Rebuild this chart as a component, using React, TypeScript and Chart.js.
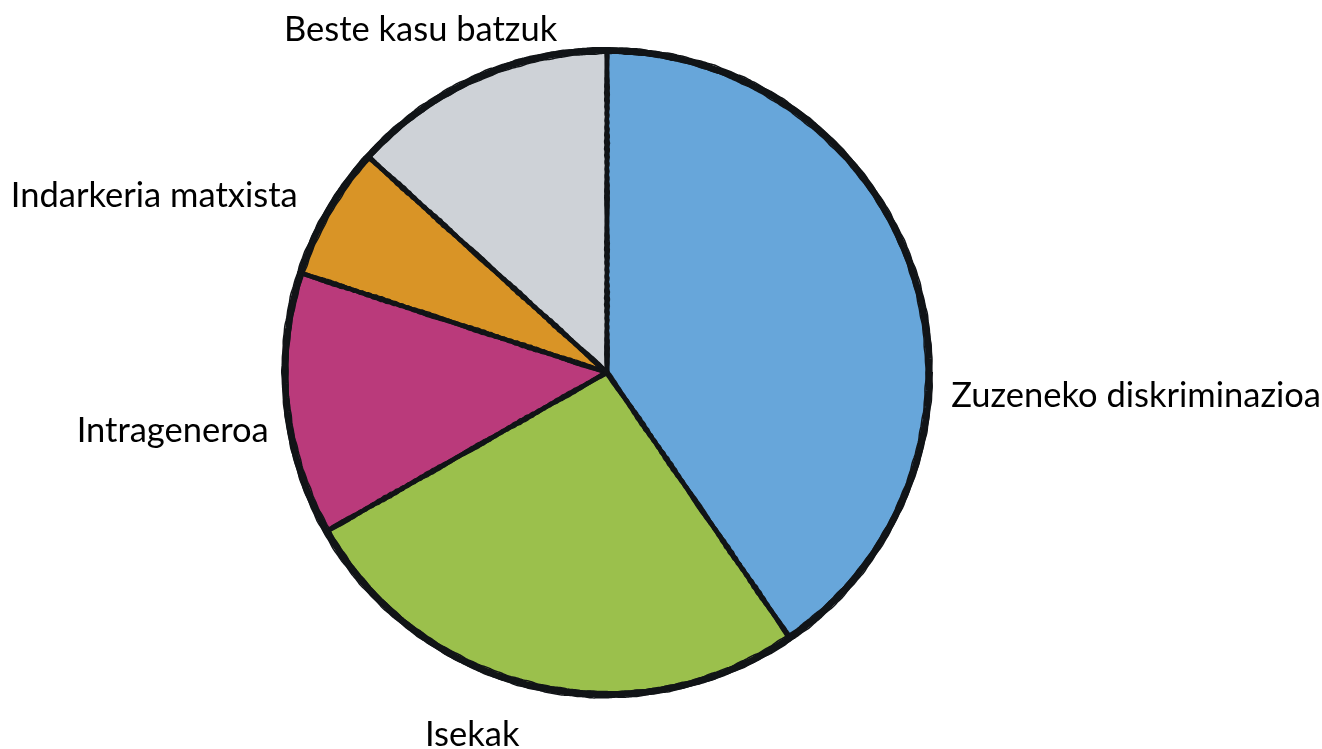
import React, { useEffect, useRef } from "react";
import { Chart, registerables } from "chart.js";

Chart.register(...registerables);

const categories = [
  "Zuzeneko diskriminazioa",
  "Isekak",
  "Intrageneroa",
  "Indarkeria matxista",
  "Beste kasu batzuk",
];
const values = [40.4, 26.4, 13.2, 6.7, 13.3];
const colors = ["#67A6DA", "#9BC04C", "#BA3A7B", "#D99426", "#CED2D7"];

// label layout: [dx, dy] nudges from the arc's outer mid-point, and alignment
const labelNudges: [number, number, CanvasTextAlign][] = [
  [13, 138, "left"],
  [-57, 35, "center"],
  [7, 35, "right"],
  [-9, 8, "right"],
  [91, -14, "right"],
];

// deterministic wobble for the hand-drawn outline
const wob = (t: number, k: number) =>
  Math.sin(t * 7.3 + k * 1.7) * 0.5 + Math.sin(t * 53.1 + k * 4.1) * 0.35 + Math.sin(t * 131.7 + k * 2.3) * 0.25;

const roughPlugin = {
  id: "roughOutline",
  afterDatasetsDraw(chart: any) {
    const ctx = chart.ctx;
    const meta = chart.getDatasetMeta(0);
    if (!meta.data.length) return;
    const a0 = meta.data[0].getProps(["x", "y", "outerRadius"], true);
    const cx = a0.x, cy = a0.y, R = a0.outerRadius;
    ctx.save();
    ctx.strokeStyle = "#111417";
    ctx.lineCap = "round";
    ctx.lineJoin = "round";
    // radial dividers
    meta.data.forEach((arc: any, j: number) => {
      const p = arc.getProps(["startAngle"], true);
      const ang = p.startAngle;
      const nx = -Math.sin(ang), ny = Math.cos(ang);
      [
        { w: 4.5, off: 0, k: 0, a: 0.3 },
        { w: 1.4, off: 1.9, k: 3 + j, a: 0.6 },
        { w: 1.4, off: -1.9, k: 5 + j, a: 0.6 },
      ].forEach((ps) => {
        ctx.lineWidth = ps.w;
        ctx.beginPath();
        const n = 160;
        for (let i = 0; i <= n; i++) {
          const s = (i / n) * R;
          const d = ps.off + wob(s / 60, ps.k) * ps.a;
          const x = cx + Math.cos(ang) * s + nx * d;
          const y = cy + Math.sin(ang) * s + ny * d;
          if (i === 0) ctx.moveTo(x, y);
          else ctx.lineTo(x, y);
        }
        ctx.stroke();
      });
    });
    // outer circle: main stroke plus ragged passes
    const passes = [
      { w: 6.5, off: 0, k: 0, a: 0.4 },
      { w: 1.5, off: 3, k: 1, a: 0.7 },
      { w: 1.5, off: -3, k: 2, a: 0.7 },
    ];
    passes.forEach((ps) => {
      ctx.lineWidth = ps.w;
      ctx.beginPath();
      const n = 1440;
      for (let i = 0; i <= n; i++) {
        const t = (i / n) * Math.PI * 2;
        const r = R + ps.off + wob(t, ps.k) * ps.a;
        const x = cx + Math.cos(t) * r;
        const y = cy + Math.sin(t) * r;
        if (i === 0) ctx.moveTo(x, y);
        else ctx.lineTo(x, y);
      }
      ctx.stroke();
    });
    ctx.restore();
  },
};

const labelPlugin = {
  id: "outerLabels",
  afterDraw(chart: any) {
    const ctx = chart.ctx;
    const meta = chart.getDatasetMeta(0);
    ctx.save();
    ctx.font = "34.5px Lato";
    ctx.fillStyle = "#000000";
    ctx.textBaseline = "alphabetic";
    meta.data.forEach((arc: any, i: number) => {
      const p = arc.getProps(["x", "y", "startAngle", "endAngle", "outerRadius"], true);
      const mid = (p.startAngle + p.endAngle) / 2;
      const r = p.outerRadius + 25;
      const x = p.x + Math.cos(mid) * r + labelNudges[i][0];
      const y = p.y + Math.sin(mid) * r + labelNudges[i][1];
      ctx.textAlign = labelNudges[i][2];
      ctx.fillText(chart.data.labels[i], x, y);
    });
    ctx.restore();
  },
};

export default function App() {
  const ref = useRef<HTMLCanvasElement>(null);
  useEffect(() => {
    if (!ref.current) return;
    const chart = new Chart(ref.current, {
      type: "pie",
      data: {
        labels: categories,
        datasets: [
          {
            data: values,
            backgroundColor: colors,
            borderColor: "#111417",
            borderWidth: 1,
          },
        ],
      },
      options: {
        animation: false,
        responsive: true,
        maintainAspectRatio: false,
        layout: { padding: { left: 0, right: 108, top: 50, bottom: 54 } },
        plugins: {
          legend: { display: false },
          tooltip: { enabled: false },
        },
      },
      plugins: [roughPlugin, labelPlugin],
    });
    return () => chart.destroy();
  }, []);
  return (
    <div style={{ position: "fixed", left: 0, top: 0, width: 1322, height: 749, background: "#fff" }}>
      <canvas ref={ref} />
    </div>
  );
}
